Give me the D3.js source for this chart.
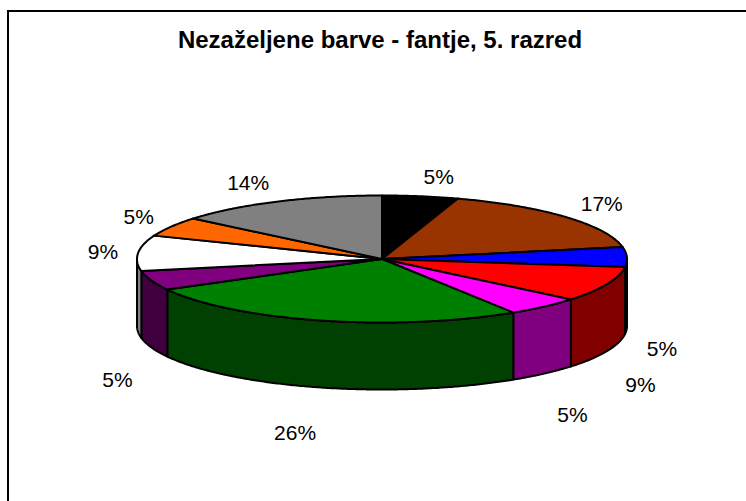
<!DOCTYPE html>
<html>
<head>
<meta charset="utf-8">
<script src="https://cdn.jsdelivr.net/npm/d3@7"></script>
<style>
  html, body { margin: 0; padding: 0; background: #fff; }
  svg { display: block; }
</style>
</head>
<body>
<svg id="chart" width="746" height="501"></svg>
<script>
// ---- data ----
const chartTitle = "Nezaželjene barve - fantje, 5. razred";
const categories = ["črna", "rjava", "modra", "rdeča", "roza", "zelena", "vijolična", "bela", "oranžna", "siva"];
const values = [5, 17, 5, 9, 5, 26, 5, 9, 5, 14];
const sliceColors = ["#000000", "#993300", "#0000FF", "#FF0000", "#FF00FF", "#008000", "#800080", "#FFFFFF", "#FF6600", "#808080"];

// ---- layout ----
const W = 746, H = 501;
const cx = 382, cy = 259, rx = 245, ry = 63.5, depth = 67;
const font = "Arial, 'Liberation Sans', sans-serif";

const svg = d3.select("#chart");

// outer frame (right & bottom edges fall outside the picture)
svg.append("rect")
  .attr("x", 8).attr("y", 11)
  .attr("width", W + 20).attr("height", H + 20)
  .attr("fill", "#fff").attr("stroke", "#000").attr("stroke-width", 2);

svg.append("text")
  .attr("x", 380).attr("y", 48)
  .attr("text-anchor", "middle")
  .attr("font-family", font).attr("font-weight", "bold").attr("font-size", 24)
  .attr("fill", "#000")
  .text(chartTitle);

const total = d3.sum(values);
const pct = d3.format(".0%");
const pie = d3.pie().sort(null).value(d => d.value).startAngle(0).endAngle(2 * Math.PI);
const arcs = pie(categories.map((c, i) => ({ name: c, value: values[i], color: sliceColors[i] })));

// ellipse projection (angle clockwise from 12 o'clock)
const px = a => cx + rx * Math.sin(a);
const py = (a, dz = 0) => cy - ry * Math.cos(a) + dz;

function arcPoints(a0, a1, dz) {
  const n = Math.max(2, Math.ceil(Math.abs(a1 - a0) / (Math.PI / 360)));
  return d3.range(n + 1).map(k => {
    const a = a0 + (a1 - a0) * k / n;
    return [px(a), py(a, dz)];
  });
}

const line = d3.line();
const darker = col => { const c = d3.rgb(col); return d3.rgb(c.r * 0.5, c.g * 0.5, c.b * 0.5).toString(); };

// side walls (front half only)
const frontStart = Math.PI / 2, frontEnd = 3 * Math.PI / 2;
const sides = svg.append("g");
arcs.forEach(d => {
  const a0 = Math.max(d.startAngle, frontStart);
  const a1 = Math.min(d.endAngle, frontEnd);
  if (a1 <= a0) return;
  const pts = arcPoints(a0, a1, 0).concat(arcPoints(a1, a0, depth));
  sides.append("path")
    .attr("d", line(pts) + "Z")
    .attr("fill", darker(d.data.color))
    .attr("stroke", "#000").attr("stroke-width", 2).attr("stroke-linejoin", "round");
});

// top faces
const tops = svg.append("g");
arcs.forEach(d => {
  const pts = [[cx, cy]].concat(arcPoints(d.startAngle, d.endAngle, 0));
  tops.append("path")
    .attr("d", line(pts) + "Z")
    .attr("fill", d.data.color)
    .attr("stroke", "#000").attr("stroke-width", 2).attr("stroke-linejoin", "round");
});

// percentage labels
const labR = 265, labRy = 84, frontShift = 92;
const mid = d => (d.startAngle + d.endAngle) / 2;
svg.append("g").selectAll("text").data(arcs).join("text")
  .attr("x", d => cx + labR * Math.sin(mid(d)))
  .attr("y", d => {
    const c = Math.cos(mid(d));
    return cy - labRy * c + (c < 0.05 ? frontShift : 0);
  })
  .attr("text-anchor", d => Math.sin(mid(d)) >= 0 ? "start" : "end")
  .attr("dominant-baseline", "central")
  .attr("font-family", font).attr("font-size", 21).attr("fill", "#000")
  .text(d => pct(d.data.value / total));
</script>
</body>
</html>
